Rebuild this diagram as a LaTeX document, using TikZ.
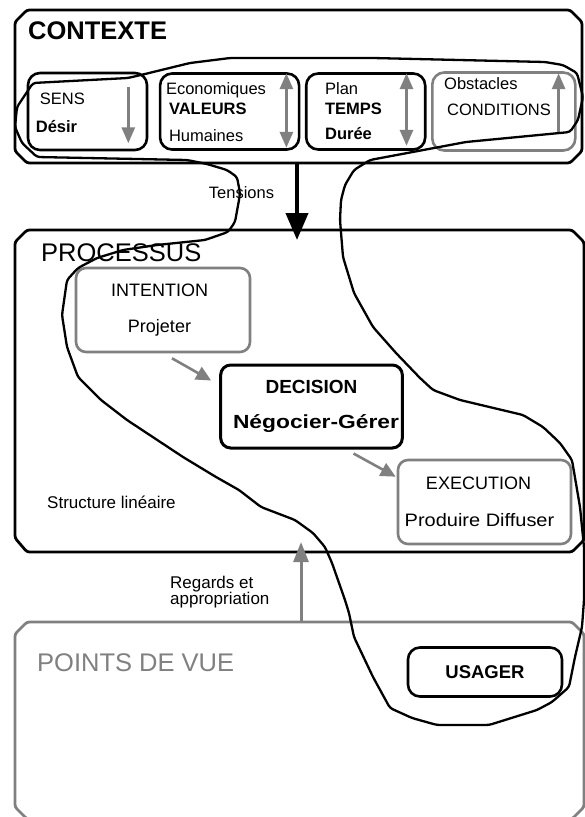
\documentclass[tikz,border=0pt]{standalone}
\usepackage{fontspec}
\usepackage{graphicx}
\setmainfont{Liberation Sans}
\usetikzlibrary{arrows.meta, positioning, calc}

\definecolor{boxgray}{RGB}{128,128,128}

\begin{document}
\begin{tikzpicture}[
    x=1pt, y=-1pt,
    bigbox/.style={rectangle, inner sep=0pt, outer sep=0pt},
    chamframe/.style={draw=black, line width=2.8pt, rounded corners=2.5pt, line join=round},
    ctxbox/.style={rectangle, draw=black, rounded corners=12pt, line width=2.6pt},
    procbox/.style={rectangle, draw=boxgray, rounded corners=10pt, line width=2.6pt, align=center, font=\fontsize{18}{21.6}\selectfont},
    ctxtext/.style={anchor=north west, inner sep=0pt, align=left, font=\fontsize{16.5}{20}\selectfont},
    boxtitle/.style={anchor=north west, inner sep=0pt, font=\fontsize{25.5}{30}\selectfont},
    plaintext/.style={inner sep=0pt, font=\fontsize{17}{20}\selectfont},
    ctxarrow/.style={{Triangle[length=16pt, width=13pt]}-{Triangle[length=16pt, width=13pt]}, draw=boxgray, line width=3pt},
    downarrow/.style={-{Triangle[length=16pt, width=13pt]}, draw=boxgray, line width=3pt},
    grayarrow/.style={-{Triangle[length=15pt, width=14pt]}, draw=boxgray, line width=2.6pt},
    tensarrow/.style={-{Triangle[length=27pt, width=22pt]}, draw=black, line width=4pt},
    lasso/.style={draw=black, line width=2.3pt, rounded corners=3pt, line join=round}
]
\useasboundingbox (0,0) rectangle (585,817);

% contexte
\node[bigbox, minimum width=567pt, minimum height=153pt] (contexte) at (298.5,86.5) {};
\draw[chamframe] ([xshift=12pt]contexte.north west) -- ([xshift=-12pt]contexte.north east) -- ([yshift=-12pt]contexte.north east)
  -- ([yshift=12pt]contexte.south east) -- ([xshift=-12pt]contexte.south east) -- ([xshift=12pt]contexte.south west)
  -- ([yshift=12pt]contexte.south west) -- ([yshift=-12pt]contexte.north west) -- cycle;
\node[boxtitle, font=\fontsize{25.5}{30}\selectfont\bfseries] (ctx-title) at ($(contexte.north west)+(13,11)$) {CONTEXTE};

\node[ctxbox, minimum width=119pt, minimum height=77pt] (sens) at (87.5,111.5) {};
\node[ctxbox, minimum width=139pt, minimum height=76pt, right=10.5pt of sens] (valeurs) {};
\node[ctxbox, minimum width=119pt, minimum height=76pt, right=4.5pt of valeurs] (temps) {};
\node[ctxbox, draw=boxgray, minimum width=143pt, minimum height=78pt, right=4.5pt of temps] (conditions) {};

\node[ctxtext] (sens-text) at ($(sens.north west)+(9,21)$) {\hspace*{4pt}SENS\\[8pt]\textbf{Désir}};
\node[ctxtext] (valeurs-text) at ($(valeurs.north west)+(7,10)$) {Economiques\\\hspace*{3pt}\textbf{VALEURS}\\[7pt]\hspace*{3pt}Humaines};
\node[ctxtext] (temps-text) at ($(temps.north west)+(20,10)$) {Plan\\\textbf{TEMPS}\\[5pt]\textbf{Durée}};
\node[ctxtext] (cond-text) at ($(conditions.north west)+(13,6)$) {Obstacles\\[6pt]\hspace*{3pt}CONDITIONS};

\draw[downarrow] ([shift={(-20,15)}]sens.north east) -- ([shift={(-20,-8)}]sens.south east);
\draw[ctxarrow] ([shift={(-14,1)}]valeurs.north east) -- ([shift={(-14,-3)}]valeurs.south east);
\draw[ctxarrow] ([shift={(-20,1)}]temps.north east) -- ([shift={(-20,-5)}]temps.south east);
\draw[downarrow] ([shift={(-18,-20)}]conditions.south east) -- ([shift={(-18,2)}]conditions.north east);

% tensions
\node[plaintext, font=\fontsize{16.5}{20}\selectfont] (tensions) at (241.5,193) {Tensions};
\coordinate (tens-tip) at (297,240);
\draw[tensarrow] (contexte.south -| tens-tip) -- (tens-tip);

% processus
\node[bigbox, minimum width=569pt, minimum height=322pt] (processus) at (299.5,391) {};
\draw[chamframe] ([xshift=12pt]processus.north west) -- ([xshift=-12pt]processus.north east) -- ([yshift=-12pt]processus.north east)
  -- ([yshift=12pt]processus.south east) -- ([xshift=-12pt]processus.south east) -- ([xshift=12pt]processus.south west)
  -- ([yshift=14pt]processus.south west) -- ([yshift=-12pt]processus.north west) -- cycle;
\node[boxtitle] (proc-title) at ($(processus.north west)+(26,13)$) {PROCESSUS};

\node[procbox, minimum width=174pt, minimum height=84pt] (intention) at (163,310) {INTENTION\hspace*{7pt}\\[15pt]Projeter\hspace*{7pt}};
\node[procbox, draw=black, line width=3pt, minimum width=174pt, minimum height=83pt, font=\fontsize{19}{23}\selectfont\bfseries] (decision) at (311.5,406.5) {DECISION\\[12pt]\hspace*{9pt}\scalebox{1.2}[1]{Négocier-Gérer}};
\node[procbox, minimum width=173pt, minimum height=84pt] (execution) at (484.5,502) {EXECUTION\hspace*{12pt}\\[15pt]\scalebox{1.11}[1]{Produire Diffuser}\hspace*{10pt}};

\draw[grayarrow] ([shift={(9,5)}]intention.south) -- ([shift={(-8,17)}]decision.north west);
\draw[grayarrow] ([shift={(42,4)}]decision.south) -- ([shift={(-1,18)}]execution.north west);

\node[plaintext, anchor=west] (structure) at (47,502) {Structure linéaire};

% points de vue
\node[bigbox, minimum width=569pt, minimum height=197pt] (pointsdevue) at (299.5,720.5) {};
\draw[chamframe, draw=boxgray] ([xshift=12pt]pointsdevue.north west) -- ([xshift=-12pt]pointsdevue.north east) -- ([yshift=-12pt]pointsdevue.north east)
  -- ([yshift=12pt]pointsdevue.south east) -- ([xshift=-12pt]pointsdevue.south east) -- ([xshift=12pt]pointsdevue.south west)
  -- ([yshift=12pt]pointsdevue.south west) -- ([yshift=-12pt]pointsdevue.north west) -- cycle;
\node[boxtitle, text=boxgray] (pdv-title) at ($(pointsdevue.north west)+(22,31)$) {POINTS DE VUE};
\node[ctxbox, minimum width=154pt, minimum height=49pt, font=\fontsize{18.5}{22}\selectfont\bfseries] (usager) at (485,672) {USAGER};

% regards
\coordinate (reg-tip) at (301,542);
\draw[grayarrow, line width=3pt, -{Triangle[length=20pt, width=15pt]}] (pointsdevue.north -| reg-tip) -- (reg-tip);
\node[plaintext, anchor=north west, align=left, font=\fontsize{17}{16}\selectfont] (regards) at (170,576) {Regards et\\appropriation};

% contour
\draw[lasso] (33,83) -- (128,78) -- (145,74) -- (190,63) -- (230,58) -- (373,58) -- (545,62) -- (563,65)
  -- (577,73) -- (583,97) -- (578,120) -- (570,132) -- (466,142) -- (370,160) -- (354,170) -- (345,185)
  -- (341,200) -- (340,220) -- (343,257) -- (354,293) -- (373,327) -- (396,353) -- (420,378) -- (433,390)
  -- (460,400) -- (523,415) -- (543,427) -- (560,443) -- (572,460) -- (580,507) -- (584,547) -- (584,600)
  -- (582,627) -- (575,657) -- (569,687) -- (552,702) -- (537,710) -- (489,725) -- (437,725) -- (412,718)
  -- (390,708) -- (373,677) -- (354,637) -- (349,613) -- (345,600) -- (332,563) -- (325,547) -- (313,533)
  -- (295,520) -- (261,507) -- (239,490) -- (216,477) -- (183,457) -- (127,420) -- (101,400) -- (78,377)
  -- (67,347) -- (62,315) -- (67,280) -- (78,268) -- (97,258) -- (123,250) -- (157,245) -- (205,240)
  -- (228,232) -- (235,222) -- (239,200) -- (240,193) -- (237,177) -- (227,170) -- (207,164) -- (187,160)
  -- (37,157) -- (22,143) -- (15,127) -- (17,107) -- cycle;
\end{tikzpicture}
\end{document}
